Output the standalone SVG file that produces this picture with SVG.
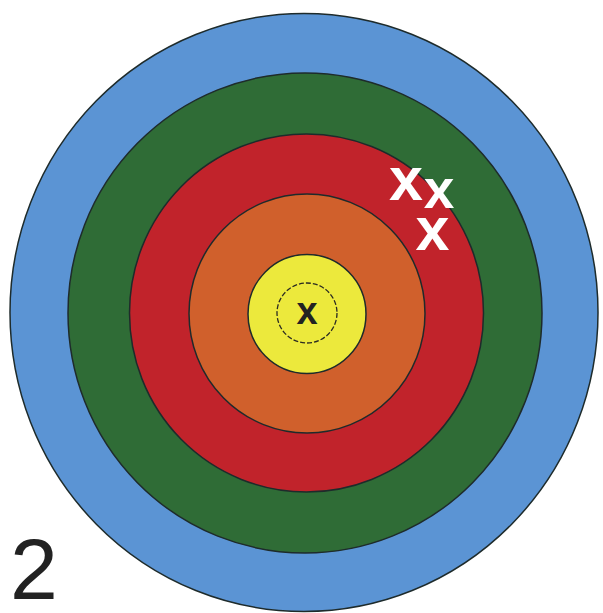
<svg xmlns="http://www.w3.org/2000/svg" width="603" height="613" viewBox="0 0 603 613">
<style>
.ring{stroke:#1e2b2b;stroke-width:1.5}
.hit{font-family:"Liberation Sans",Arial,sans-serif;font-weight:bold;fill:#ffffff;text-anchor:middle}
</style>
<rect width="603" height="613" fill="#ffffff"/>
<g id="target">
<ellipse id="blue" class="ring" cx="304" cy="312.5" rx="294" ry="299" fill="#5b94d4"/>
<ellipse id="green" class="ring" cx="305" cy="313" rx="237" ry="240" fill="#2f6c36"/>
<ellipse id="red" class="ring" cx="306.5" cy="313" rx="177" ry="179" fill="#c1232b"/>
<ellipse id="orange" class="ring" cx="307" cy="313.5" rx="118" ry="119.5" fill="#d0602c"/>
<ellipse id="yellow" class="ring" cx="307" cy="314" rx="59" ry="59.5" fill="#ece93c"/>
<circle id="inner" cx="307" cy="313" r="30" fill="none" stroke="#2b2b22" stroke-width="1.3" stroke-dasharray="5 2"/>
<text id="center-x" x="307" y="324" font-family="Liberation Sans, Arial, sans-serif" font-weight="bold" font-size="38" fill="#222222" text-anchor="middle">x</text>
</g>
<g id="hits">
<text class="hit" x="406" y="200" font-size="61">x</text>
<text class="hit" x="439" y="208" font-size="55">x</text>
<text class="hit" x="432.5" y="250" font-size="61">x</text>
</g>
<text id="label" x="10" y="599" font-family="Liberation Sans, Arial, sans-serif" font-size="86" fill="#222222">2</text>
</svg>
